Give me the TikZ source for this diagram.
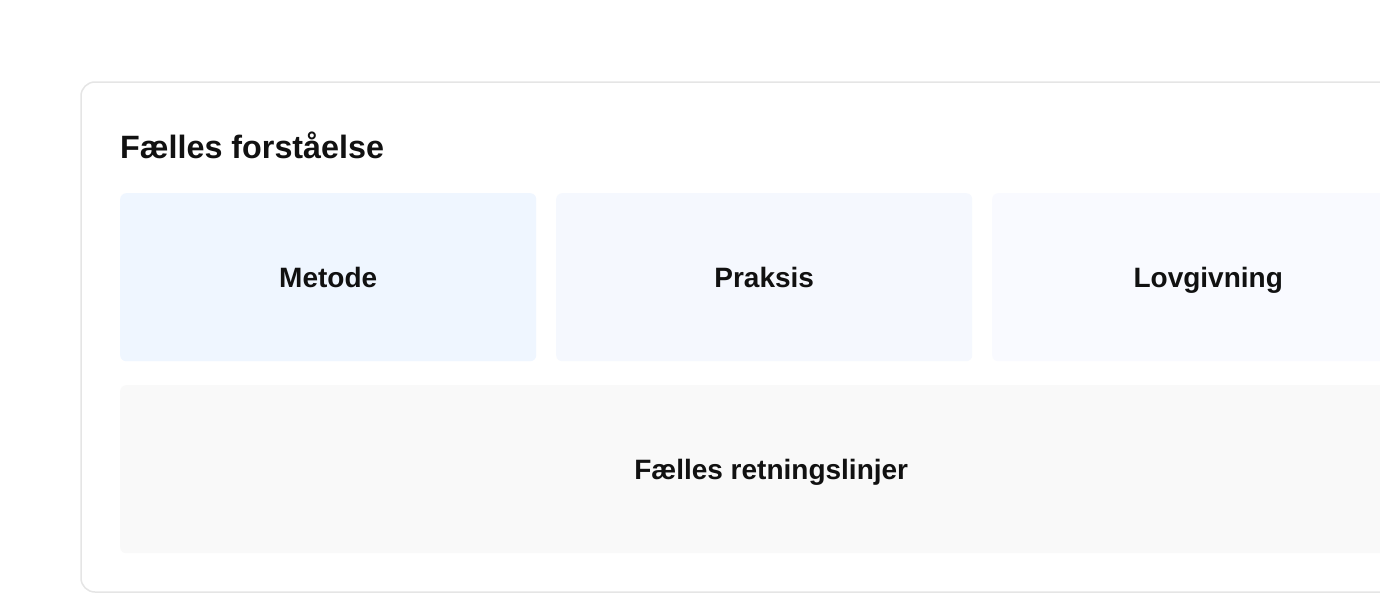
\documentclass[tikz,border=0pt]{standalone}
\usepackage{fontspec}
\setmainfont{Liberation Sans}
\definecolor{cardborder}{HTML}{E5E5E5}
\definecolor{fillA}{HTML}{EFF6FF}
\definecolor{fillB}{HTML}{F5F8FE}
\definecolor{fillC}{HTML}{F9FAFF}
\definecolor{fillD}{HTML}{F9F9F9}
\definecolor{ink}{HTML}{111111}
\begin{document}
\begin{tikzpicture}[x=1pt,y=-1pt,
  card/.style={draw=cardborder, line width=1.5pt, fill=white, rounded corners=14pt},
  tile/.style={rounded corners=6pt, inner sep=0pt, anchor=north west, font=\fontsize{28}{32}\selectfont\bfseries, text=ink, text height=20pt, text depth=0pt},
]
\useasboundingbox (0,0) rectangle (1380,610);
\clip (0,0) rectangle (1380,610);
\draw[card] (81,82) rectangle (1420,592);
\node[anchor=base west, inner sep=0pt, font=\fontsize{32.3}{38}\selectfont\bfseries, text=ink] (title) at (120,158) {Fælles forståelse};
\node[tile, fill=fillA, minimum width=416pt, minimum height=168pt] (metode) at (120,193) {Metode};
\node[tile, fill=fillB, minimum width=416pt, minimum height=168pt] (praksis) at (556,193) {Praksis};
\node[tile, fill=fillC, minimum width=432pt, minimum height=168pt] (lov) at (992,193) {Lovgivning};
\node[tile, fill=fillD, minimum width=1302pt, minimum height=168pt] (faelles) at (120,385) {Fælles retningslinjer};
\end{tikzpicture}
\end{document}
